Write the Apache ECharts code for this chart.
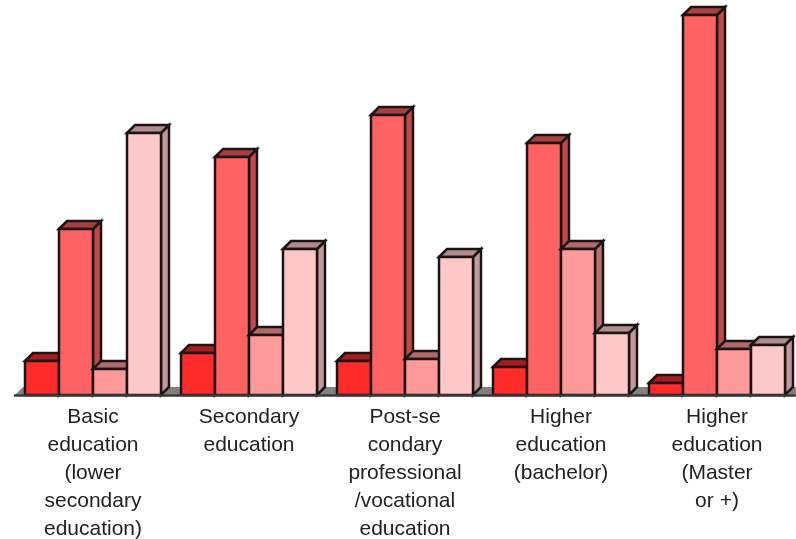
<!DOCTYPE html>
<html>
<head>
<meta charset="utf-8">
<style>html,body{margin:0;padding:0;background:#fff}#chart{width:796px;height:539px}</style>
<script src="https://cdn.jsdelivr.net/npm/echarts@6/dist/echarts.min.js"></script>
</head>
<body>
<div id="chart"></div>
<script>
// Education levels along the horizontal axis
const categories = [
  'Basic\neducation\n(lower\nsecondary\neducation)',
  'Secondary\neducation',
  'Post-se\ncondary\nprofessional\n/vocational\neducation',
  'Higher\neducation\n(bachelor)',
  'Higher\neducation\n(Master\nor +)'
];

// One list of values per bar within each group
const seriesA = [8.5, 10.5, 8.5, 7, 3];
const seriesB = [41.5, 59.5, 70, 63, 95];
const seriesC = [6.5, 15, 9, 36.5, 11.5];
const seriesD = [65.5, 36.5, 34.5, 15.5, 12.5];

const valueSeries = [seriesA, seriesB, seriesC, seriesD];

// Face colours of each bar: front, top, side
const palette = [
  ['#ff2b2b', '#a81c1c', '#b02020'],
  ['#ff6262', '#a84040', '#c04a4a'],
  ['#ff9a9a', '#b06a6a', '#b87070'],
  ['#ffc8c8', '#b08c8c', '#c09a9a']
];

const DEPTH = 8;
const BAR_WIDTH = 34;
const EDGE = '#1c1414';

function face(points, fill) {
  return {
    type: 'polygon',
    shape: { points: points },
    style: { fill: fill, stroke: EDGE, lineWidth: 2.5, lineJoin: 'miter' }
  };
}

// Draws one extruded bar: the offset within the band comes from the series position
function renderBar(slot, params, api) {
  const base = api.coord([api.value(0), 0]);
  const top = api.coord([api.value(0), api.value(1)]);
  const left = base[0] - BAR_WIDTH * valueSeries.length / 2 + BAR_WIDTH * slot;
  const right = left + BAR_WIDTH;
  const colors = palette[slot];
  return {
    type: 'group',
    children: [
      face([[right, base[1]], [right + DEPTH, base[1] - DEPTH], [right + DEPTH, top[1] - DEPTH], [right, top[1]]], colors[2]),
      face([[left, top[1]], [left + DEPTH, top[1] - DEPTH], [right + DEPTH, top[1] - DEPTH], [right, top[1]]], colors[1]),
      face([[left, base[1]], [left, top[1]], [right, top[1]], [right, base[1]]], colors[0])
    ]
  };
}

// Grey floor of the 3D plot, running the full width of the grid
function renderFloor(params) {
  const g = params.coordSys;
  const y = g.y + g.height;
  return {
    type: 'polygon',
    shape: { points: [[g.x, y], [g.x + DEPTH, y - DEPTH], [g.x + g.width + DEPTH, y - DEPTH], [g.x + g.width, y]] },
    style: { fill: '#808080' }
  };
}

const chart = echarts.init(document.getElementById('chart'));
chart.setOption({
  animation: false,
  backgroundColor: '#ffffff',
  grid: { left: 15, right: 1, top: 15, bottom: 144, containLabel: false, outerBoundsMode: 'none' },
  xAxis: {
    type: 'category',
    data: categories,
    axisTick: { show: false },
    axisLine: { show: true, lineStyle: { color: '#3a3a3a', width: 2.5 } },
    axisLabel: {
      interval: 0,
      margin: 8,
      fontFamily: 'Liberation Sans',
      fontSize: 21,
      lineHeight: 28,
      color: '#222222',
      verticalAlign: 'top',
      align: 'center'
    },
    z: 5
  },
  yAxis: { type: 'value', min: 0, max: 95, show: false, splitLine: { show: false } },
  series: [
    {
      type: 'custom',
      silent: true,
      z: 1,
      renderItem: renderFloor,
      data: [[0, 0]],
      encode: { x: 0, y: 1 }
    }
  ].concat(valueSeries.map(function (values, slot) {
    return {
      type: 'custom',
      silent: true,
      z: 2 + slot,
      renderItem: function (params, api) { return renderBar(slot, params, api); },
      data: values.map(function (v, i) { return [i, v]; }),
      encode: { x: 0, y: 1 }
    };
  }))
});
</script>
</body>
</html>
